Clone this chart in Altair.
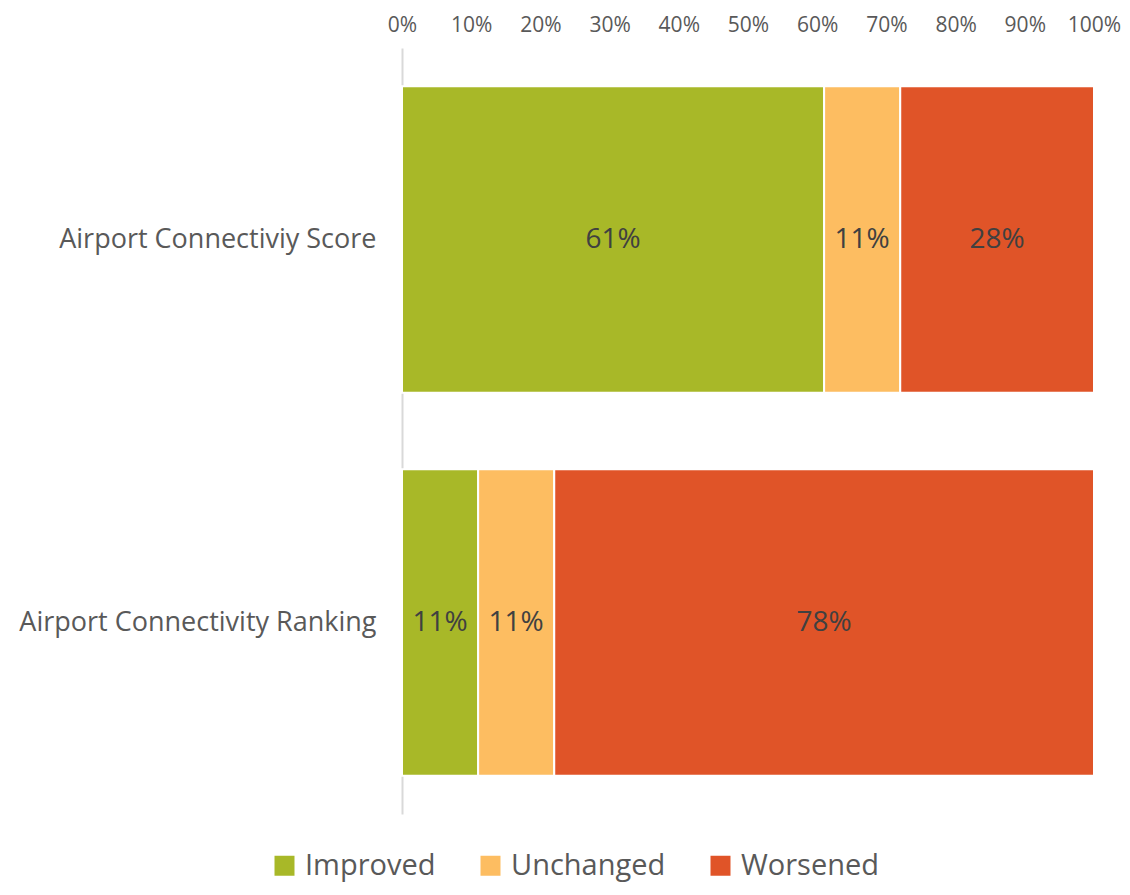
import altair as alt
import pandas as pd

categories = ["Airport Connectiviy Score", "Airport Connectivity Ranking"]
series = ["Improved", "Unchanged", "Worsened"]
score_values = [61, 11, 28]
ranking_values = [11, 11, 78]
colors = ["#A8B828", "#FDBD61", "#E05428"]

rows = []
for cat, vals in zip(categories, [score_values, ranking_values]):
    for i, (s, v) in enumerate(zip(series, vals)):
        rows.append({"cat": cat, "series": s, "value": v, "order": i})
df = pd.DataFrame(rows)

FONT = "Open Sans"
TXT = "#595959"

base = alt.Chart(df).transform_stack(
    stack="value", groupby=["cat"], as_=["x0", "x1"],
    sort=[alt.SortField("order", order="ascending")]
).transform_calculate(mid="(datum.x0 + datum.x1) / 2", lbl="datum.value + '%'")

y_enc = alt.Y("cat:N", sort=categories, title=None,
              scale=alt.Scale(paddingInner=0.2, paddingOuter=0.1),
              axis=alt.Axis(domainColor="#d9d9d9", domainWidth=2, ticks=False,
                            labelFont=FONT, labelFontSize=27, labelColor=TXT,
                            labelPadding=26, labelLimit=500))

bars = base.mark_bar(stroke="white", strokeWidth=2).encode(
    x=alt.X("x0:Q", title=None,
            scale=alt.Scale(domain=[0, 100], nice=False),
            axis=alt.Axis(orient="top", values=list(range(0, 101, 10)),
                          labelExpr="datum.value + '%'", grid=False, ticks=False,
                          domain=False, labelFont=FONT, labelFontSize=21,
                          labelColor=TXT, labelPadding=13, labelOverlap=False,
                          labelBound=False, labelFlush=False)),
    x2="x1:Q",
    y=y_enc,
    color=alt.Color("series:N", sort=series,
                    scale=alt.Scale(domain=series, range=colors),
                    legend=alt.Legend(title=None, orient="none", direction="horizontal",
                                      legendX=-132, legendY=803,
                                      symbolType="square", symbolSize=400,
                                      symbolStrokeWidth=0, symbolOpacity=1,
                                      labelFont=FONT, labelFontSize=29,
                                      labelColor=TXT, columnPadding=40,
                                      labelOffset=6)),
)

labels = base.mark_text(font=FONT, fontSize=28, color="#404040").encode(
    x="mid:Q",
    y=alt.Y("cat:N", sort=categories),
    text="lbl:N",
)

chart = (bars + labels).properties(
    width=692, height=766,
    autosize=alt.AutoSizeParams(type="none"),
    padding={"left": 394, "top": 40, "right": 28, "bottom": 73},
).configure_view(stroke=None)

chart.save("out.html", embed_options={"renderer": "svg", "actions": False})
